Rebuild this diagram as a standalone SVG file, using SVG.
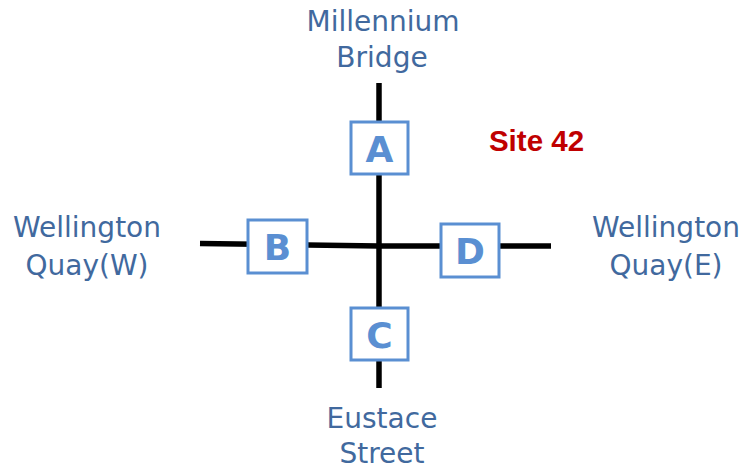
<svg xmlns="http://www.w3.org/2000/svg" width="744" height="471" viewBox="0 0 744 471">
<style>
.lbl{font-family:"DejaVu Sans",sans-serif;font-size:28px;fill:#41699E;text-anchor:middle}
.box rect{fill:#fff;stroke:#5A8FD2;stroke-width:3}
.box text{font-family:"DejaVu Sans",sans-serif;font-weight:bold;font-size:36px;fill:#5A8FD2;text-anchor:middle}
.road{stroke:#000;stroke-width:5.5;fill:none}
</style>
<rect width="744" height="471" fill="#fff"/>
<g id="connectors">
<line class="road" x1="379" y1="83" x2="379" y2="388"/>
<line class="road" x1="200" y1="243.5" x2="379" y2="246"/>
<line class="road" x1="379" y1="246" x2="551" y2="246"/>
</g>
<g id="nodeA" class="box"><rect x="351" y="122" width="57" height="52"/><text x="379.5" y="161.5">A</text></g>
<g id="nodeB" class="box"><rect x="248" y="220" width="59" height="53"/><text x="277.5" y="259.5">B</text></g>
<g id="nodeD" class="box"><rect x="441" y="224" width="58" height="53"/><text x="470" y="263.5">D</text></g>
<g id="nodeC" class="box"><rect x="351" y="308" width="57" height="52"/><text x="379.5" y="347.5">C</text></g>
<g id="label-north"><text class="lbl" x="383" y="31">Millennium</text><text class="lbl" x="382" y="67">Bridge</text></g>
<g id="label-west"><text class="lbl" x="87" y="237">Wellington</text><text class="lbl" x="87" y="275">Quay(W)</text></g>
<g id="label-east"><text class="lbl" x="666" y="237">Wellington</text><text class="lbl" x="666" y="275">Quay(E)</text></g>
<g id="label-south"><text class="lbl" x="382" y="428">Eustace</text><text class="lbl" x="382" y="463">Street</text></g>
<g id="site"><text x="536.5" y="151" style="font-family:'Liberation Sans',sans-serif;font-weight:bold;font-size:29.5px;fill:#C00000;text-anchor:middle">Site 42</text></g>
</svg>
